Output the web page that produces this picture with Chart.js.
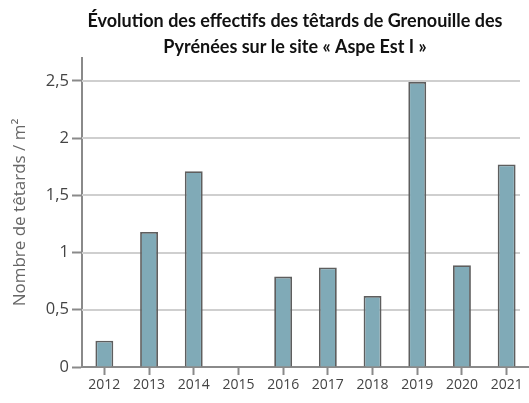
<!DOCTYPE html>
<html lang="fr">
<head>
<meta charset="utf-8">
<script src="https://cdn.jsdelivr.net/npm/chart.js@4/dist/chart.umd.min.js"></script>
<style>
  html, body { margin: 0; padding: 0; background: #ffffff; }
  #wrap { width: 529px; height: 403px; position: relative; }
</style>
</head>
<body>
<div id="wrap"><canvas id="c" width="529" height="403"></canvas></div>
<script>
// Tadpole density (per m²) at the "Aspe Est I" site, by year
const years = ['2012', '2013', '2014', '2015', '2016', '2017', '2018', '2019', '2020', '2021'];
const densities = [0.23, 1.18, 1.71, 0, 0.79, 0.87, 0.62, 2.49, 0.89, 1.77];
const yTicks = [0, 0.5, 1, 1.5, 2, 2.5];

const titleLines = [
  'Évolution des effectifs des têtards de Grenouille des',
  'Pyrénées sur le site « Aspe Est I »'
];
const yAxisTitle = 'Nombre de têtards / m²';

const fmt = v => String(v).replace('.', ',');

// Two-line bold heading, centred above the plot
const headingPlugin = {
  id: 'heading',
  afterDraw(chart) {
    const ctx = chart.ctx;
    ctx.save();
    ctx.fillStyle = '#111111';
    ctx.font = 'bold 18px Lato, "Open Sans", sans-serif';
    ctx.textAlign = 'center';
    ctx.textBaseline = 'alphabetic';
    ctx.fillText(titleLines[0], 295, 27);
    ctx.fillText(titleLines[1], 295, 53);
    ctx.restore();
  }
};

// Horizontal guide lines at each y tick, stopping a little short of the right edge
const guidePlugin = {
  id: 'guides',
  beforeDatasetsDraw(chart) {
    const { ctx, chartArea, scales } = chart;
    ctx.save();
    ctx.strokeStyle = '#cfcfcf';
    ctx.lineWidth = 2;
    scales.y.ticks.forEach(t => {
      if (t.value === 0) return;
      const y = Math.round(scales.y.getPixelForValue(t.value));
      ctx.beginPath();
      ctx.moveTo(chartArea.left, y);
      ctx.lineTo(chartArea.right - 9, y);
      ctx.stroke();
    });
    ctx.restore();
  }
};

new Chart(document.getElementById('c'), {
  type: 'bar',
  data: {
    labels: years,
    datasets: [{
      data: densities,
      backgroundColor: '#80aab7',
      borderColor: '#5e5e5e',
      borderWidth: 1.8,
      barPercentage: 0.4,
      categoryPercentage: 1
    }]
  },
  options: {
    responsive: false,
    animation: false,
    devicePixelRatio: 1,
    layout: { padding: { top: 58, right: 0, left: 0, bottom: 0 } },
    plugins: {
      legend: { display: false },
      title: { display: false },
      tooltip: { enabled: false }
    },
    scales: {
      x: {
        offset: true,
        afterFit(scale) { scale.height = 36; },
        border: { display: true, color: '#8a8a8a', width: 2 },
        grid: {
          offset: false,
          drawOnChartArea: false,
          drawTicks: true,
          tickLength: 8,
          tickWidth: 2,
          tickColor: '#8a8a8a'
        },
        ticks: {
          color: '#444444',
          padding: 2,
          font: { family: '"Open Sans", sans-serif', size: 14 },
          maxRotation: 0
        }
      },
      y: {
        min: 0,
        max: 2.7,
        afterFit(scale) { scale.width = 82; },
        afterBuildTicks(scale) {
          scale.ticks = yTicks.map(v => ({ value: v }));
        },
        border: { display: true, color: '#8a8a8a', width: 2 },
        grid: {
          drawOnChartArea: false,
          drawTicks: true,
          tickLength: 10,
          tickWidth: 2,
          tickColor: '#8a8a8a'
        },
        ticks: {
          color: '#444444',
          padding: 3,
          font: { family: '"Open Sans", sans-serif', size: 16.5 },
          callback: v => fmt(v)
        },
        title: {
          display: true,
          text: yAxisTitle,
          color: '#666666',
          padding: { top: 10, bottom: 0 },
          font: { family: '"Open Sans", sans-serif', size: 17, weight: 'normal' }
        }
      }
    }
  },
  plugins: [guidePlugin, headingPlugin]
});
</script>
</body>
</html>
